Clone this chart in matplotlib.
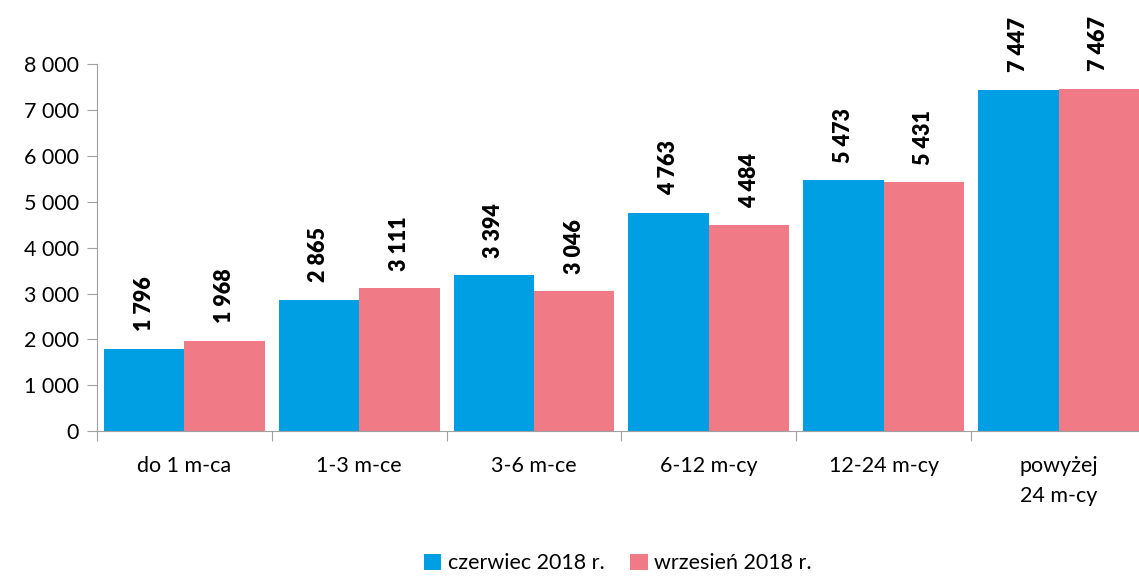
import matplotlib
matplotlib.use('Agg')
import matplotlib.pyplot as plt
import numpy as np
from matplotlib.ticker import FuncFormatter, FixedLocator

plt.rcParams['font.family'] = ['Lato', 'DejaVu Sans']

categories = ["do 1 m-ca", "1-3 m-ce", "3-6 m-ce", "6-12 m-cy", "12-24 m-cy", "powyżej\n24 m-cy"]
series_names = ["czerwiec 2018 r.", "wrzesień 2018 r."]
czerwiec = [1796, 2865, 3394, 4763, 5473, 7447]
wrzesien = [1968, 3111, 3046, 4484, 5431, 7467]
colors = ["#009FE3", "#F07A85"]

def fmt(v, pos=None):
    return f"{int(v):,}".replace(",", " ")

fig = plt.figure(figsize=(11.39, 5.78), dpi=100)
ax = fig.add_axes([0.085, 0.254, 0.915, 0.635])

x = np.arange(len(categories))
w = 0.46
for i, (vals, c) in enumerate(zip([czerwiec, wrzesien], colors)):
    pos = x + (i - 0.5) * w
    ax.bar(pos, vals, width=w, color=c, label=series_names[i], zorder=2)
    for p, v in zip(pos, vals):
        ax.text(p, v + 380, fmt(v), rotation=90, ha='center', va='bottom',
                fontsize=15.5, fontweight='heavy', clip_on=False)

ax.set_xlim(-0.5, len(categories) - 0.54)
ax.set_ylim(0, 8000)
ax.yaxis.set_major_locator(FixedLocator(np.arange(0, 8001, 1000)))
ax.yaxis.set_major_formatter(FuncFormatter(fmt))

ax.xaxis.set_major_locator(FixedLocator(np.arange(-0.5, len(categories) - 0.6, 1.0)))
ax.xaxis.set_major_formatter(FuncFormatter(lambda v, p: ""))
ax.xaxis.set_minor_locator(FixedLocator(x))
ax.set_xticklabels(categories, minor=True, linespacing=1.6)
ax.tick_params(axis='x', which='minor', length=0, pad=18, labelsize=15.5)
ax.tick_params(axis='x', which='major', length=7, color='#A0A0A0')
ax.tick_params(axis='y', length=7, color='#A0A0A0', labelsize=15.5, pad=6)

for s in ['top', 'right']:
    ax.spines[s].set_visible(False)
ax.spines['left'].set_color('#A0A0A0')
ax.spines['bottom'].set_color('#A0A0A0')

ax.legend(loc='center', bbox_to_anchor=(0.5, -0.36), ncol=2, frameon=False,
          fontsize=15.5, handlelength=0.8, handleheight=0.8, handletextpad=0.3,
          columnspacing=1.2)

fig.savefig("out.png", dpi=100)
